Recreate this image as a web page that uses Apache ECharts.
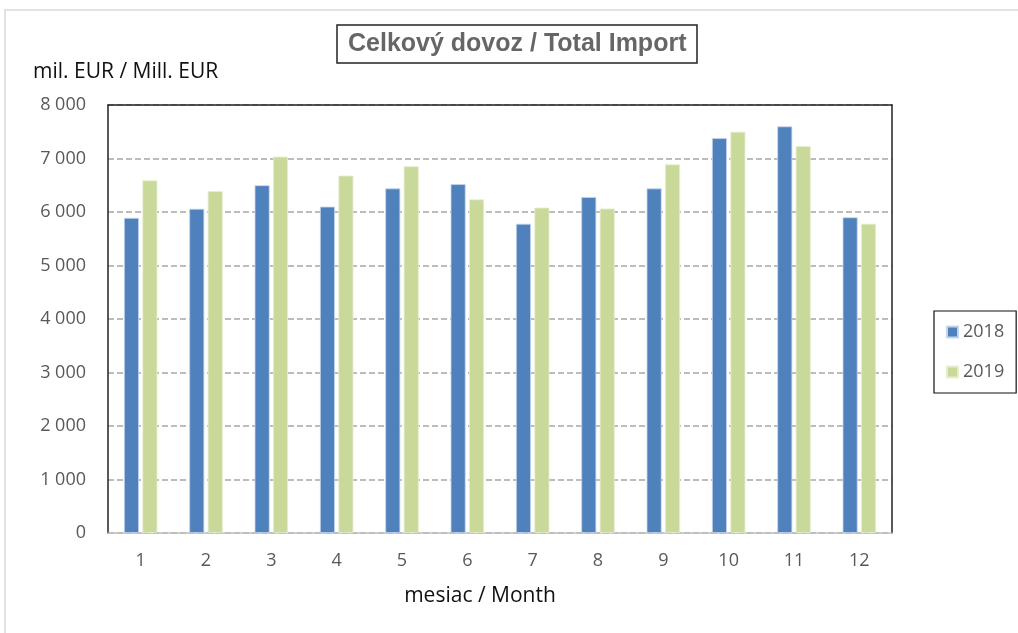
<!DOCTYPE html>
<html><head><meta charset="utf-8">
<script src="https://cdn.jsdelivr.net/npm/echarts@6/dist/echarts.min.js"></script>
<style>html,body{margin:0;padding:0;background:#fff}#c{width:1018px;height:633px}</style>
</head><body><div id="c"></div>
<script>
const months = ['1','2','3','4','5','6','7','8','9','10','11','12'];
const yearNames = ['2018','2019'];
const import2018 = [5890, 6060, 6500, 6100, 6440, 6520, 5780, 6280, 6440, 7380, 7600, 5900];
const import2019 = [6590, 6390, 7035, 6680, 6855, 6235, 6080, 6065, 6890, 7500, 7230, 5780];
const titleText = 'Celkový dovoz / Total Import';
const yName = 'mil. EUR / Mill. EUR';
const xName = 'mesiac / Month';

const font = 'Open Sans, Liberation Sans, Arial, sans-serif';
const chart = echarts.init(document.getElementById('c'));
chart.setOption({
  animation: false,
  backgroundColor: '#fff',
  title: {
    text: titleText, left: 337, top: 25, padding: [7, 11, 6, 11],
    borderColor: '#222', borderWidth: 1.5,
    textStyle: { fontFamily: 'Liberation Sans Narrow, Arial Narrow, Liberation Sans, Arial', fontSize: 25, fontWeight: 'bold', color: '#666' }
  },
  graphic: [{
    type: 'polyline', shape: { points: [[5, 633], [5, 10], [1018, 10]] },
    style: { stroke: '#d9d9d9', lineWidth: 1.5, fill: null }
  }, {
    type: 'text', x: 33, y: 72,
    style: { text: yName, fontFamily: font, fontSize: 21, fill: '#111', verticalAlign: 'middle' }
  }],
  legend: {
    orient: 'vertical', left: 934, top: 311,
    padding: [12, 12, 12, 12], itemGap: 22,
    borderColor: '#111', borderWidth: 1.2,
    itemWidth: 11, itemHeight: 11, icon: 'rect',
    data: yearNames,
    textStyle: { fontFamily: font, fontSize: 18, color: '#595959', lineHeight: 18 }
  },
  grid: { left: 108, right: 126, top: 105, bottom: 100, containLabel: false },
  xAxis: [{
    type: 'category', data: months,
    name: xName, nameLocation: 'middle', nameGap: 53,
    nameTextStyle: { fontFamily: font, fontSize: 21, color: '#111', padding: [0, 40, 0, 0] },
    axisLine: { onZero: false, lineStyle: { color: '#bfbfbf', width: 1.5 } },
    axisTick: { show: false },
    axisLabel: { fontFamily: font, fontSize: 18, color: '#595959', margin: 19 }
  }, {
    type: 'category', data: months, position: 'top',
    axisLine: { onZero: false, lineStyle: { color: '#222', width: 1.5 } },
    axisTick: { show: false }, axisLabel: { show: false }
  }],
  yAxis: [{
    type: 'value', min: 0, max: 8000, interval: 1000,
    axisLine: { show: true, onZero: false, lineStyle: { color: '#222', width: 1.5 } },
    axisTick: { show: false },
    axisLabel: { fontFamily: font, fontSize: 18, color: '#595959', margin: 22,
      formatter: v => v >= 1000 ? Math.floor(v / 1000) + ' ' + String(v % 1000).padStart(3, '0') : String(v) },
    splitLine: { lineStyle: { color: '#a6a6a6', type: [6, 3], width: 1.5 } }
  }, {
    type: 'value', min: 0, max: 8000, interval: 1000, position: 'right',
    axisLine: { show: true, onZero: false, lineStyle: { color: '#222', width: 1.5 } },
    axisTick: { show: false }, axisLabel: { show: false }, splitLine: { show: false }
  }],
  series: [{
    name: yearNames[0], type: 'bar', data: import2018, barWidth: 15, barGap: '23%',
    itemStyle: { color: '#4f81bd', borderColor: '#c6d6ea', borderWidth: 0.8 }
  }, {
    name: yearNames[1], type: 'bar', data: import2019, barWidth: 15,
    itemStyle: { color: '#c8d99a', borderColor: '#e6eed0', borderWidth: 0.8 }
  }]
});
</script></body></html>
